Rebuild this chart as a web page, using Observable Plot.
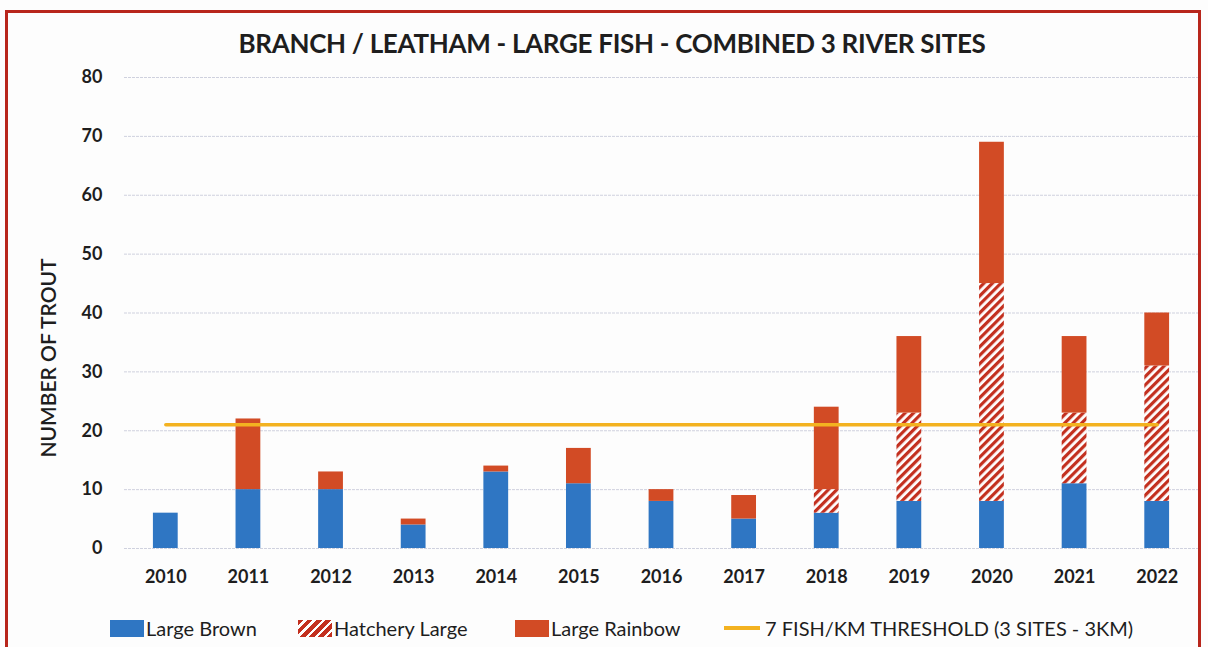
<!DOCTYPE html>
<html>
<head>
<meta charset="utf-8">
<script src="https://cdn.jsdelivr.net/npm/d3@7"></script>
<script src="https://cdn.jsdelivr.net/npm/@observablehq/plot@0.6"></script>
<style>
  html, body { margin: 0; padding: 0; background: #fdfdfd; }
  #page { position: relative; width: 1208px; height: 647px; overflow: hidden; font-family: Lato, "Open Sans", sans-serif; color: #1e1e1e; }
  #frame { position: absolute; left: 5px; top: 10px; width: 1196px; height: 700px; border: 3px solid #b8261c; box-sizing: border-box; }
  #title { position: absolute; left: 0; width: 1224px; top: 27px; text-align: center; font-weight: bold; font-size: 26px; letter-spacing: -0.3px; }
  #ylabel { position: absolute; left: 47px; top: 358px; transform: translate(-50%, -50%) rotate(-90deg); white-space: nowrap; font-size: 21px; font-weight: 600; }
  #chart { position: absolute; left: 0; top: 60px; }
  .leg { position: absolute; top: 616px; font-size: 20px; display: flex; align-items: center; white-space: nowrap; }
  .sw { width: 34px; height: 17px; margin-right: 2px; box-sizing: border-box; }
</style>
</head>
<body>
<div id="page">
  <div id="frame"></div>
  <div id="title"></div>
  <div id="ylabel"></div>
  <div id="chart"></div>
  <div id="legend"></div>
</div>
<script>
const titleText = "BRANCH / LEATHAM - LARGE FISH - COMBINED 3 RIVER SITES";
const yLabel = "NUMBER OF TROUT";
const years = ["2010","2011","2012","2013","2014","2015","2016","2017","2018","2019","2020","2021","2022"];
const seriesNames = ["Large Brown", "Hatchery Large", "Large Rainbow"];
const largeBrown =    [6, 10, 10, 4, 13, 11, 8, 5, 6, 8, 8, 11, 8];
const hatcheryLarge = [0, 0, 0, 0, 0, 0, 0, 0, 4, 15, 37, 12, 23];
const largeRainbow =  [0, 12, 3, 1, 1, 6, 2, 4, 14, 13, 24, 13, 9];
const thresholdLabel = "7 FISH/KM THRESHOLD (3 SITES - 3KM)";
const thresholdValue = 21;
const yTicks = [0, 10, 20, 30, 40, 50, 60, 70, 80];

const colBrown = "#2f76c3";
const colRainbow = "#d24b25";
const colHatch = "#c3301f";
const colThreshold = "#f3b220";

document.getElementById("title").textContent = titleText;
document.getElementById("ylabel").textContent = yLabel;

const seriesValues = [largeBrown, hatcheryLarge, largeRainbow];
const data = [];
years.forEach((yr, i) => {
  seriesNames.forEach((s, j) => data.push({year: yr, series: s, value: seriesValues[j][i]}));
});
const thresholdData = years.map(yr => ({year: yr, value: thresholdValue}));

const chart = Plot.plot({
  width: 1208,
  height: 540,
  marginTop: 17,
  marginBottom: 52,
  marginLeft: 124,
  marginRight: 10,
  style: {background: "transparent", fontFamily: "Lato, 'Open Sans', sans-serif", fontSize: "18px", fontWeight: "bold", color: "#1e1e1e"},
  x: {domain: years, paddingInner: 0.7, paddingOuter: 0.35, round: false, label: null, tickSize: 0, tickPadding: 22},
  y: {domain: [0, 80], ticks: yTicks, label: null, tickSize: 0, tickPadding: 22},
  color: {domain: seriesNames, range: [colBrown, "url(#hatchPattern)", colRainbow]},
  marks: [
    Plot.ruleY(yTicks, {stroke: "#cfd1de", strokeWidth: 1, strokeDasharray: "3,1"}),
    Plot.barY(data, Plot.stackY({x: "year", y: "value", fill: "series", order: seriesNames})),
    Plot.lineY(thresholdData, {x: "year", y: "value", stroke: colThreshold, strokeWidth: 3.5})
  ]
});

// hatch pattern definition
const svgNS = "http://www.w3.org/2000/svg";
const defs = document.createElementNS(svgNS, "defs");
defs.innerHTML = `<pattern id="hatchPattern" patternUnits="userSpaceOnUse" width="6" height="6" patternTransform="rotate(45)">
  <rect width="6" height="6" fill="#ffffff"/>
  <rect width="3.2" height="6" fill="${colHatch}"/>
</pattern>`;
chart.insertBefore(defs, chart.firstChild);
document.getElementById("chart").appendChild(chart);

// legend
const legend = document.getElementById("legend");
const legItems = [
  {left: 110, label: seriesNames[0], style: `background:${colBrown}`},
  {left: 298, label: seriesNames[1], style: `background: repeating-linear-gradient(135deg, ${colHatch} 0 4px, #fff 4px 6.5px)`},
  {left: 515, label: seriesNames[2], style: `background:${colRainbow}`},
  {left: 724, label: thresholdLabel, line: true}
];
legItems.forEach(it => {
  const d = document.createElement("div");
  d.className = "leg";
  d.style.left = it.left + "px";
  const sw = document.createElement("div");
  if (it.line) {
    sw.style.cssText = `width:36px;height:4px;background:${colThreshold};margin-right:5px;`;
  } else {
    sw.className = "sw";
    sw.style.cssText = it.style;
  }
  d.appendChild(sw);
  const t = document.createElement("span");
  t.textContent = it.label;
  d.appendChild(t);
  legend.appendChild(d);
});
</script>
</body>
</html>
